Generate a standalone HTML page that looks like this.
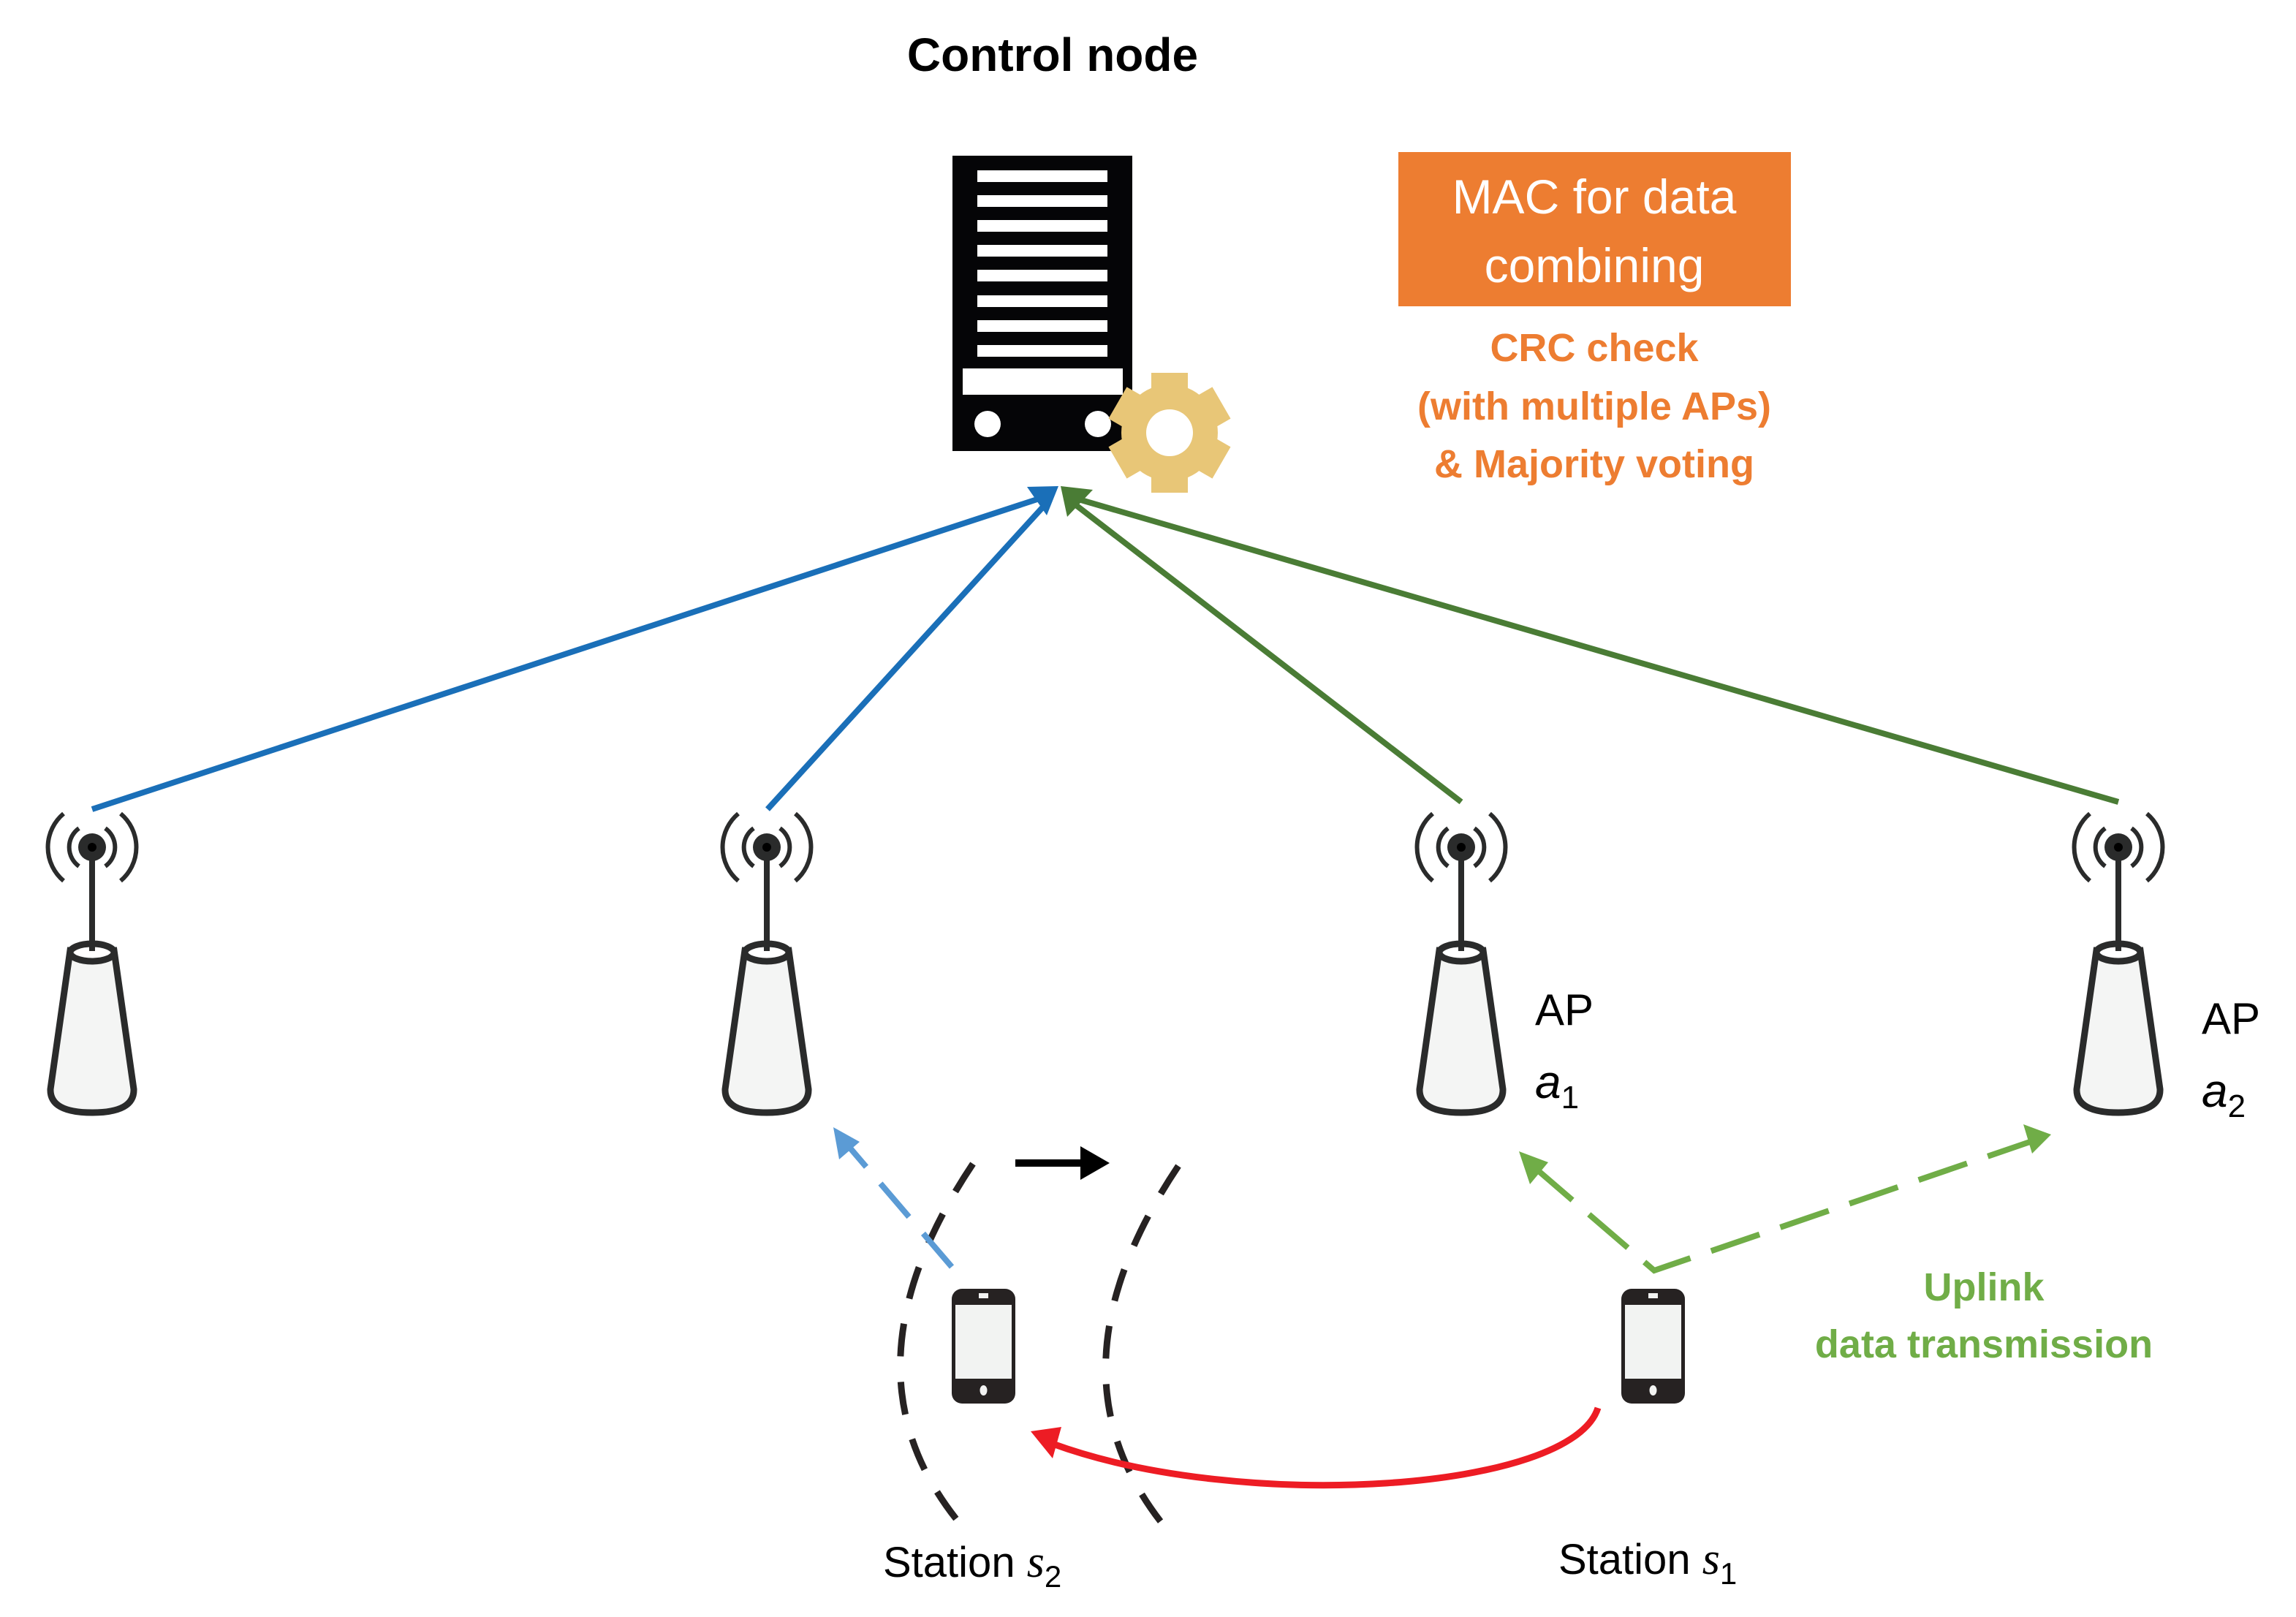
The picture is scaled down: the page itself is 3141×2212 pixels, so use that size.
<!DOCTYPE html>
<html><head><meta charset="utf-8"><style>
html,body{margin:0;padding:0;background:#fff;}
svg{display:block;}
text{font-family:"Liberation Sans",sans-serif;}
</style></head><body>
<svg width="3141" height="2212" viewBox="0 0 3141 2212" xmlns="http://www.w3.org/2000/svg">
<defs>
<g id="ap">
  <path d="M-30 1300 L-57 1490 Q-58 1522 0 1522 Q58 1522 57 1490 L30 1300 Z" fill="#f4f5f4" stroke="#2a2b2b" stroke-width="9"/>
  <ellipse cx="0" cy="1303" rx="30" ry="12" fill="#fff" stroke="#2a2b2b" stroke-width="9"/>
  <line x1="0" y1="1160" x2="0" y2="1301" stroke="#2a2b2b" stroke-width="8"/>
  <circle cx="0" cy="1159" r="19" fill="#2a2b2b"/>
  <circle cx="0" cy="1159" r="6" fill="#000"/>
  <g fill="none" stroke="#2a2b2b" stroke-width="6">
    <path d="M-18 1133 A32 32 0 0 0 -18 1185"/>
    <path d="M18 1133 A32 32 0 0 1 18 1185"/>
    <path d="M-39 1113 A60 60 0 0 0 -39 1205"/>
    <path d="M39 1113 A60 60 0 0 1 39 1205"/>
  </g>
</g>
<g id="phone">
  <rect x="0" y="0" width="87" height="157" rx="14" fill="#262222"/>
  <rect x="5" y="22" width="77" height="101" fill="#f2f3f2"/>
  <rect x="37" y="6" width="13" height="7" fill="#f2f3f2"/>
  <ellipse cx="43.5" cy="139" rx="5" ry="7" fill="#f2f3f2"/>
</g>
</defs>

<text x="1440" y="97" font-size="64" font-weight="bold" text-anchor="middle" fill="#000">Control node</text>

<rect x="1303" y="213" width="246" height="404" fill="#050507"/>
<g fill="#fff">
  <rect x="1337" y="233" width="178" height="16"/>
  <rect x="1337" y="267" width="178" height="16"/>
  <rect x="1337" y="301" width="178" height="16"/>
  <rect x="1337" y="335" width="178" height="16"/>
  <rect x="1337" y="369" width="178" height="16"/>
  <rect x="1337" y="404" width="178" height="16"/>
  <rect x="1337" y="438" width="178" height="16"/>
  <rect x="1337" y="472" width="178" height="16"/>
  <rect x="1317" y="504" width="219" height="36"/>
  <circle cx="1351" cy="580" r="18"/>
  <circle cx="1502" cy="580" r="18"/>
</g>
<g transform="translate(1600 592)" fill="#e8c677">
  <circle r="66"/>
  <rect x="-25" y="-82" width="50" height="164"/>
  <rect x="-25" y="-82" width="50" height="164" transform="rotate(60)"/>
  <rect x="-25" y="-82" width="50" height="164" transform="rotate(120)"/>
  <circle r="32" fill="#fff"/>
</g>

<rect x="1913" y="208" width="537" height="211" fill="#ed7d31"/>
<text x="2181" y="292" font-size="66" fill="#fff" text-anchor="middle">MAC for data</text>
<text x="2181" y="386" font-size="66" fill="#fff" text-anchor="middle">combining</text>
<g font-size="54" font-weight="bold" fill="#ed7d31" text-anchor="middle">
<text x="2181" y="494">CRC check</text>
<text x="2181" y="574">(with multiple APs)</text>
<text x="2181" y="653">&amp; Majority voting</text>
</g>

<g stroke-width="8" fill="none">
  <line x1="126" y1="1107" x2="1425" y2="681" stroke="#1a6fb8"/>
  <line x1="1050" y1="1107" x2="1430" y2="690" stroke="#1a6fb8"/>
  <line x1="1999" y1="1097" x2="1468" y2="688" stroke="#4a7c35"/>
  <line x1="2898" y1="1097" x2="1472" y2="682" stroke="#4a7c35"/>
</g>
<polygon points="1448,665 1405,666 1432,705" fill="#1a6fb8"/>
<polygon points="1451,665 1495,670 1460,707" fill="#4a7c35"/>

<use href="#ap" transform="translate(126 0)"/>
<use href="#ap" transform="translate(1049 0)"/>
<use href="#ap" transform="translate(1999 0)"/>
<use href="#ap" transform="translate(2898 0)"/>
<text x="2100" y="1402" font-size="60" fill="#000">AP</text>
<text x="2100" y="1502" font-size="64" font-style="italic" font-family="Liberation Serif" fill="#000">a<tspan font-size="44" dy="14" font-style="normal">1</tspan></text>
<text x="3012" y="1414" font-size="60" fill="#000">AP</text>
<text x="3012" y="1514" font-size="64" font-style="italic" font-family="Liberation Serif" fill="#000">a<tspan font-size="44" dy="14" font-style="normal">2</tspan></text>

<g fill="none" stroke="#262222" stroke-width="9" stroke-dasharray="45 35">
  <path d="M1331 1592 Q1139 1879 1318 2090"/>
  <path d="M1612 1595 Q1421 1880 1597 2093"/>
</g>

<line x1="1389" y1="1591" x2="1490" y2="1591" stroke="#000" stroke-width="10"/>
<polygon points="1478,1568 1518,1591 1478,1614" fill="#000"/>

<line x1="1302" y1="1733" x2="1160" y2="1567" stroke="#5b9bd5" stroke-width="8" stroke-dasharray="60 30"/>
<polygon points="1140,1542 1148,1586 1176,1562" fill="#5b9bd5"/>

<g stroke="#70ad47" stroke-width="8" fill="none" stroke-dasharray="70 30">
  <path d="M2098 1596 L2263 1738 L2780 1561"/>
</g>
<polygon points="2078,1575 2093,1620 2118,1590" fill="#70ad47"/>
<polygon points="2806,1552 2768,1538 2780,1578" fill="#70ad47"/>

<use href="#phone" transform="translate(1302 1763)"/>
<use href="#phone" transform="translate(2218 1763)"/>

<path d="M2186 1926 C2150 2040 1700 2070 1440 1975" fill="none" stroke="#ed1c24" stroke-width="9"/>
<polygon points="1410,1958 1452,1952 1440,1995" fill="#ed1c24"/>

<text x="1208" y="2157" font-size="58" fill="#000">Station <tspan font-family="Liberation Serif" font-style="italic" font-size="62">s</tspan><tspan font-size="42" dy="14">2</tspan></text>
<text x="2132" y="2153" font-size="58" fill="#000">Station <tspan font-family="Liberation Serif" font-style="italic" font-size="62">s</tspan><tspan font-size="42" dy="14">1</tspan></text>
<g font-size="54" font-weight="bold" fill="#70ad47" text-anchor="middle">
<text x="2714" y="1779">Uplink</text>
<text x="2714" y="1857">data transmission</text>
</g>
</svg>
</body></html>
